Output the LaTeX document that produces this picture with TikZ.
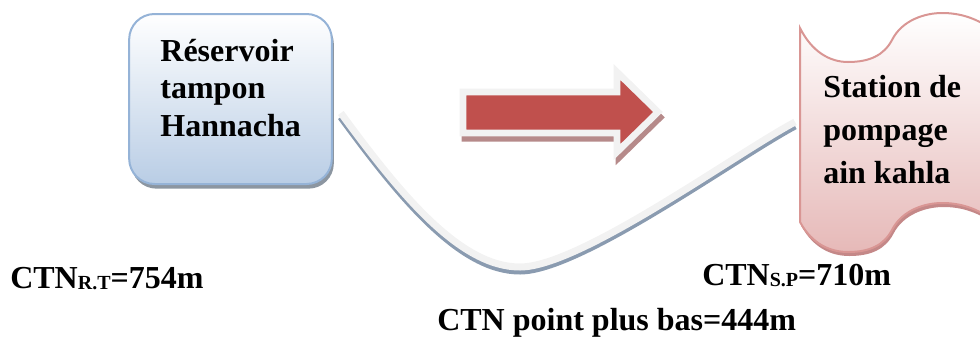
\documentclass[tikz,border=0pt]{standalone}
\usepackage{fontspec}
\setmainfont{Liberation Serif}
\usetikzlibrary{positioning,shadows}
\definecolor{BoxEdge}{HTML}{95B3D7}
\definecolor{BoxFill}{HTML}{B9CDE5}
\definecolor{BoxShadow}{HTML}{8C96A1}
\definecolor{ArrowRed}{HTML}{C0504D}
\definecolor{Rim}{HTML}{F2F2F2}
\definecolor{ArrowShadow}{HTML}{B68A8A}
\definecolor{WaveEdge}{HTML}{D99694}
\definecolor{WaveFill}{HTML}{E6B9B8}
\definecolor{WaveShadow}{HTML}{C48888}
\definecolor{PipeShadow}{HTML}{8A9BB0}
\newcommand{\ctnsub}[1]{\raisebox{-1pt}{\fontsize{15}{15}\selectfont #1}}

\begin{document}
\begin{tikzpicture}[x=0.75pt,y=-0.75pt,
      lbl/.style={font=\fontsize{24}{28}\selectfont\bfseries,inner sep=0pt,align=left},
      resbox/.style={draw=BoxEdge,line width=1.5pt,rounded corners=19pt,
        top color=white,bottom color=BoxFill,minimum width=152pt,minimum height=127.5pt,
        general shadow={fill=BoxShadow,shadow xshift=1.5pt,shadow yshift=-3.5pt}},
      flowarrow/.style={fill=ArrowRed,draw=Rim,line width=5pt,line join=miter,
        general shadow={fill=ArrowShadow,draw=ArrowShadow,line width=5pt,shadow xshift=1.5pt,shadow yshift=-4pt}},
      wavebox/.style={draw=WaveEdge,line width=1.5pt,top color=white,bottom color=WaveFill,
        general shadow={fill=WaveShadow,shadow xshift=1pt,shadow yshift=-3pt}},
      pipe/.style={draw=Rim,line width=5.25pt,
        general shadow={draw=PipeShadow,line width=5.25pt,shadow yshift=-3pt}}]
  \path[use as bounding box,clip] (0,0) rectangle (980,336);

  % reservoir
  \node[resbox] (res) at (230.5,99) {};
  \node[lbl,anchor=base west] (restxt) at ([shift={(32,123)}]res.north west) {Réservoir\\tampon\\Hannacha};

  % direction of flow
  \draw[flowarrow] (463,92) -- (617,92) -- (617,72) -- (658,112) -- (617,152) -- (617,133) -- (463,133) -- cycle;

  % pumping station
  \coordinate (wavenw) at (800,28);
  \path[wavebox] (wavenw) .. controls (812,52) and (830,62) .. (848,62)
    .. controls (870,62) and (884,55) .. (892,40)
    .. controls (902,20) and (925,13) .. (942,13)
    .. controls (960,13) and (975,18) .. (990,28) -- (1000,30) -- (1000,220) -- (990,218)
    .. controls (975,208) and (960,203) .. (942,203)
    .. controls (925,203) and (902,210) .. (892,230)
    .. controls (884,245) and (870,252) .. (848,252)
    .. controls (830,252) and (812,244) .. (800,222) -- cycle;
  \node[lbl,font=\fontsize{24}{32.25}\selectfont\bfseries,anchor=base west] (sp) at (823,183) {Station de\\pompage\\ain kahla};

  % pipe profile
  \coordinate (low) at (520,267);
  \draw[pipe] ([shift={(8,14)}]res.east) .. controls +(60,82) and (460,267) .. (low)
    .. controls (580,267) and +(-60,32) .. ([shift={(-5,94)}]wavenw);

  % ground levels
  \node[lbl,anchor=base west] (ctnrt) at (10,288) {CTN\ctnsub{R.T}=754m};
  \node[lbl,anchor=base west] (ctnsp) at (702,285) {CTN\ctnsub{S.P}=710m};
  \node[lbl,anchor=base west] (ctnlow) at (437,330) {CTN point plus bas=444m};
\end{tikzpicture}
\end{document}
